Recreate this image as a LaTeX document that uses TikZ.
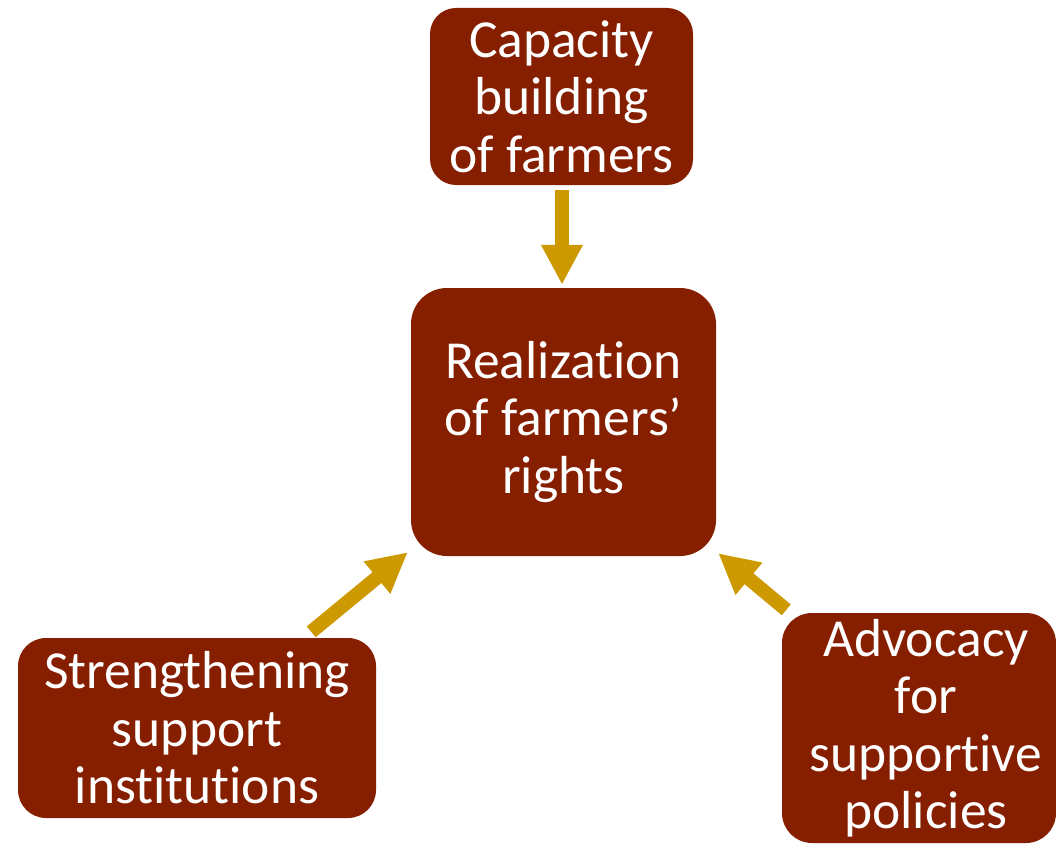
\documentclass[tikz,border=0pt]{standalone}
\usepackage{fontspec}
\setmainfont{Carlito}[Ligatures=NoCommon]
\usetikzlibrary{arrows.meta,calc}
\definecolor{boxred}{RGB}{134,30,0}
\definecolor{arrowgold}{RGB}{204,153,0}
\tikzset{
  topic/.style={fill=boxred, text=white, align=center, inner sep=0pt,
    font=\fontsize{53.5}{57.5}\selectfont},
  topictext/.style={text=white, align=center, inner sep=0pt,
    font=\fontsize{53.5}{57.5}\selectfont},
  push/.style={draw=arrowgold, line width=14pt, line cap=butt,
    -{Triangle[width=39pt,length=40pt]}}
}
\begin{document}
\begin{tikzpicture}[x=1pt,y=-1pt]
  \useasboundingbox (0,0) rectangle (1056,845);

  % the four boxes
  \node[topic, rounded corners=26pt, minimum width=263pt, minimum height=177pt]
    (cap) at (561.5,96.5) {Capacity\\building\\of farmers};
  \node[topic, rounded corners=36pt, minimum width=305pt, minimum height=268pt]
    (real) at (563.5,422) {Realization\\of farmers’\\rights};
  \node[topic, rounded corners=28pt, minimum width=358pt, minimum height=180pt]
    (inst) at (197,728) {Strengthening\\support\\institutions};
  \node[topic, rounded corners=30pt, minimum width=274pt, minimum height=230pt]
    (adv) at (919,728) {};
  \node[topictext] (advtext) at ($(adv.center)+(7,0)$)
    {Advocacy\\for\\supportive\\policies};

  % arrow end points next to the boxes
  \coordinate (capout) at ($(cap.south)+(0.5,5)$);
  \coordinate (realtop) at ($(real.north)+(-1.5,-3)$);
  \coordinate (instout) at ($(inst.north east)+(-65,-6)$);
  \coordinate (realsw) at ($(real.south west)+(-3,-4)$);
  \coordinate (advout) at ($(adv.north west)+(4.5,-3)$);
  \coordinate (realse) at ($(real.south east)+(2,-3)$);

  % arrows into the centre box
  \draw[push] (capout) -- (realtop);
  \draw[push] (instout) -- (realsw);
  \draw[push] (advout) -- (realse);
\end{tikzpicture}
\end{document}
